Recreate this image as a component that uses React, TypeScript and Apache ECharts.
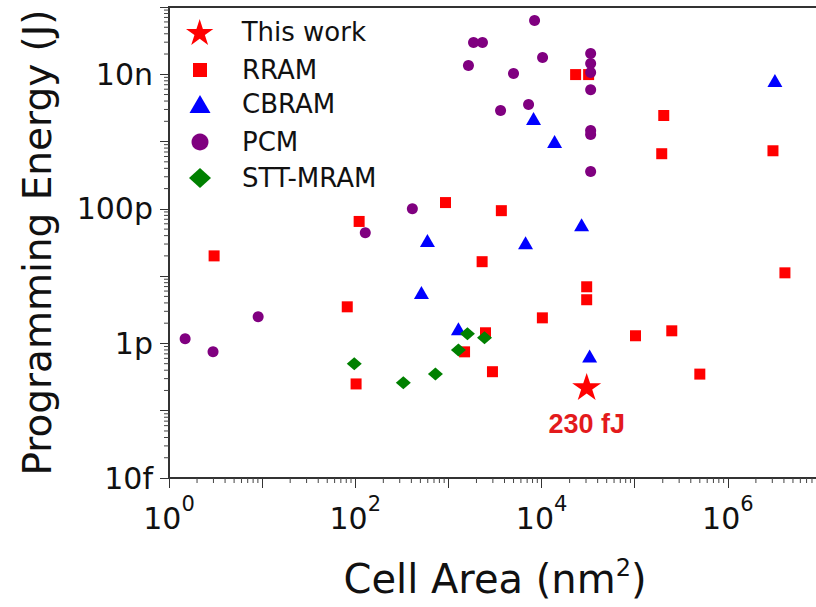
import React, { useEffect, useRef } from "react";
import * as echarts from "echarts";

// ---- data (cell area in nm^2, programming energy in J) ----
const rramArea = [3.05, 110, 930, 3700, 2300, 82, 102, 1490, 2500, 2970, 10200, 30500, 30500, 23200, 32000, 205000, 195000, 3.05e6, 102000, 250000, 500000, 4.1e6];
const rramEnergy = [2.0e-11, 6.5e-11, 1.24e-10, 9.4e-11, 1.64e-11, 3.5e-12, 2.5e-13, 7.5e-13, 1.44e-12, 3.8e-13, 2.4e-12, 6.95e-12, 4.46e-12, 9.9e-9, 9.9e-9, 2.44e-9, 6.6e-10, 7.3e-10, 1.3e-12, 1.54e-12, 3.5e-13, 1.12e-11];

const cbramArea = [595, 513, 1280, 6730, 26900, 8200, 13800, 32800, 3.2e6];
const cbramEnergy = [3.4e-11, 5.7e-12, 1.65e-12, 3.14e-11, 5.8e-11, 2.2e-9, 1.0e-9, 6.5e-13, 8.1e-9];

const pcmArea = [1.49, 2.97, 9.06, 128, 410, 1640, 1860, 2320, 8410, 10250, 5000, 3630, 7250, 33650, 33650, 33650, 33650, 33650, 33650, 33650];
const pcmEnergy = [1.17e-12, 7.5e-13, 2.5e-12, 4.4e-11, 1.0e-10, 1.35e-8, 2.97e-8, 2.97e-8, 6.3e-8, 1.78e-8, 1.03e-8, 2.9e-9, 3.56e-9, 2.04e-8, 1.45e-8, 1.06e-8, 5.9e-9, 1.46e-9, 1.27e-9, 3.6e-10];

const sttArea = [97.5, 328, 725, 1280, 1600, 2440];
const sttEnergy = [5.0e-13, 2.6e-13, 3.5e-13, 8.0e-13, 1.39e-12, 1.21e-12];

const thisWorkArea = [30500];
const thisWorkEnergy = [2.3e-13];
const thisWorkLabel = "230 fJ";

// ---- axes ----
const xDecades = [0, 1, 2, 3, 4, 5, 6];
const yDecades = [-14, -13, -12, -11, -10, -9, -8];
const minorMultipliers = [2, 3, 4, 5, 6, 7, 8, 9];
const xLabelExponents = [0, 2, 4, 6];
const yLabelExponents = [-14, -12, -10, -8];
const yLabelTexts = ["10f", "1p", "100p", "10n"];

const seriesNames = ["This work", "RRAM", "CBRAM", "PCM", "STT-MRAM"];

const FONT = "'DejaVu Sans', sans-serif";
const STAR =
  "path://M0,-1L0.2245,-0.309L0.951,-0.309L0.363,0.118L0.588,0.809L0,0.382L-0.588,0.809L-0.363,0.118L-0.951,-0.309L-0.2245,-0.309Z";

const zip = (a: number[], b: number[]) => a.map((v, i) => [v, b[i]]);

const xMinorTicks: number[][] = [];
xDecades.forEach((d) => minorMultipliers.forEach((m) => xMinorTicks.push([m * Math.pow(10, d), 1e-14])));
const yMinorTicks: number[][] = [];
yDecades.forEach((d) => minorMultipliers.forEach((m) => yMinorTicks.push([1, m * Math.pow(10, d)])));

function legendFor(name: string, w: number, h: number, cy: number) {
  return {
    data: [name],
    left: 200 - w / 2,
    top: cy - 13,
    padding: 0,
    itemGap: 0,
    itemWidth: w,
    itemHeight: h,
    selectedMode: false,
    itemStyle: { opacity: 1 },
    textStyle: {
      fontFamily: FONT,
      fontSize: 26,
      color: "#111",
      padding: [0, 0, 0, 37 - w / 2],
    },
  };
}

export default function App() {
  const ref = useRef<HTMLDivElement>(null);
  useEffect(() => {
    document.body.style.margin = "0";
    const chart = echarts.init(ref.current!, null, { renderer: "svg" });
    const option: any = {
      animation: false,
      backgroundColor: "#ffffff",
      grid: {
        left: 169,
        top: 7,
        width: 652,
        height: 471,
        outerBoundsMode: "none",
        containLabel: false,
        show: true,
        borderColor: "#333",
        borderWidth: 2,
        backgroundColor: "transparent",
      },
      legend: [
        legendFor(seriesNames[0], 28, 26, 32),
        legendFor(seriesNames[1], 14, 14, 70),
        legendFor(seriesNames[2], 21, 18, 104),
        legendFor(seriesNames[3], 17, 17, 142),
        legendFor(seriesNames[4], 22, 20, 178),
      ],
      xAxis: {
        type: "log",
        logBase: 10,
        min: 1,
        max: 1e7,
        axisLine: { show: true, lineStyle: { color: "#333", width: 2 } },
        axisTick: { show: true, inside: false, length: 10, lineStyle: { color: "#333", width: 1 } },
        splitLine: { show: false },
        minorTick: { show: false },
        axisLabel: {
          margin: 15,
          color: "#111",
          formatter: (v: number) => {
            const e = Math.round(Math.log10(v));
            return xLabelExponents.includes(e) ? `{b|10}{s|${e}}` : "";
          },
          rich: {
            b: { fontFamily: FONT, fontSize: 30, lineHeight: 50, color: "#111" },
            s: { fontFamily: FONT, fontSize: 21, lineHeight: 21, verticalAlign: "top", color: "#111" },
          },
        },
        name: "{a|Cell Area (nm}{s|2}{a|)}",
        nameLocation: "middle",
        nameGap: 78,
        nameTextStyle: {
          fontFamily: FONT,
          color: "#111",
          rich: {
            a: { fontFamily: FONT, fontSize: 40, lineHeight: 46, color: "#111" },
            s: { fontFamily: FONT, fontSize: 24, lineHeight: 24, verticalAlign: "top", color: "#111" },
          },
        },
      },
      yAxis: {
        type: "log",
        logBase: 10,
        min: 1e-14,
        max: 1e-7,
        axisLine: { show: true, lineStyle: { color: "#333", width: 2 } },
        axisTick: { show: true, inside: false, length: 9, lineStyle: { color: "#333", width: 1 } },
        splitLine: { show: false },
        minorTick: { show: false },
        axisLabel: {
          margin: 16,
          fontFamily: FONT,
          fontSize: 30,
          color: "#111",
          formatter: (v: number) => {
            const e = Math.round(Math.log10(v));
            const i = yLabelExponents.indexOf(e);
            return i >= 0 ? yLabelTexts[i] : "";
          },
        },
        name: "Programming Energy (J)",
        nameLocation: "middle",
        nameGap: 112,
        nameTextStyle: { fontFamily: FONT, fontSize: 39, color: "#111" },
      },
      series: [
        {
          type: "custom",
          silent: true,
          clip: false,
          data: xMinorTicks,
          renderItem: (params: any, api: any) => {
            const p = api.coord([api.value(0), api.value(1)]);
            return {
              type: "line",
              shape: { x1: p[0], y1: p[1], x2: p[0], y2: p[1] + 5 },
              style: { stroke: "#444", lineWidth: 1 },
            };
          },
        },
        {
          type: "custom",
          silent: true,
          clip: false,
          data: yMinorTicks,
          renderItem: (params: any, api: any) => {
            const p = api.coord([api.value(0), api.value(1)]);
            return {
              type: "line",
              shape: { x1: p[0] - 5, y1: p[1], x2: p[0], y2: p[1] },
              style: { stroke: "#444", lineWidth: 1 },
            };
          },
        },
        {
          name: seriesNames[1],
          type: "scatter",
          symbol: "rect",
          symbolSize: 11,
          itemStyle: { color: "#ff0000", opacity: 1 },
          data: zip(rramArea, rramEnergy),
        },
        {
          name: seriesNames[2],
          type: "scatter",
          symbol: "triangle",
          symbolSize: [15, 13],
          itemStyle: { color: "#0000ff", opacity: 1 },
          data: zip(cbramArea, cbramEnergy),
        },
        {
          name: seriesNames[3],
          type: "scatter",
          symbol: "circle",
          symbolSize: 11,
          itemStyle: { color: "#800080", opacity: 1 },
          data: zip(pcmArea, pcmEnergy),
        },
        {
          name: seriesNames[4],
          type: "scatter",
          symbol: "diamond",
          symbolSize: [15, 13],
          itemStyle: { color: "#008000", opacity: 1 },
          data: zip(sttArea, sttEnergy),
        },
        {
          name: seriesNames[0],
          type: "scatter",
          symbol: STAR,
          symbolSize: [29, 27],
          itemStyle: { color: "#ff0000", opacity: 1 },
          label: {
            show: true,
            position: "bottom",
            distance: 11,
            formatter: thisWorkLabel,
            fontFamily: "'Liberation Sans', Arial, sans-serif",
            fontWeight: "bold",
            fontSize: 27,
            color: "#e31a1c",
          },
          data: zip(thisWorkArea, thisWorkEnergy),
        },
      ],
    };
    chart.setOption(option);
    return () => chart.dispose();
  }, []);
  return (
    <div
      ref={ref}
      style={{ position: "fixed", left: 0, top: 0, width: 816, height: 607, overflow: "hidden" }}
    />
  );
}
